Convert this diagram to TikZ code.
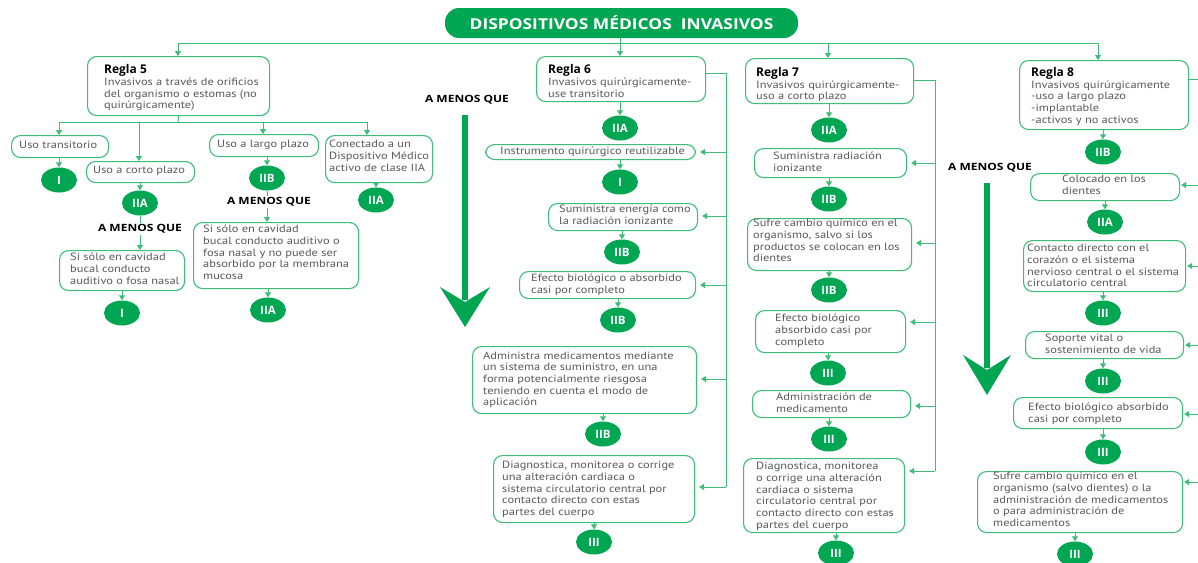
\documentclass[tikz,border=0pt]{standalone}
\usepackage{fontspec}
\setmainfont{PT Sans}[FakeStretch=1.18]
\newfontfamily\hvy{Open Sans}
\newfontfamily\hvyw{Open Sans}[FakeStretch=1.2]
\newfontfamily\hvyt{Open Sans}[FakeStretch=1.16]
\usetikzlibrary{shapes.geometric,arrows.meta}
\definecolor{gdark}{HTML}{00A651}
\definecolor{gline}{HTML}{3DBE76}
\definecolor{gtxt}{HTML}{58595B}
\newcommand\bodyf{\fontsize{10.5}{11.7}\selectfont}
\newcommand\rgf{\hvy\fontsize{12}{11.7}\selectfont\bfseries\color{black}}
\newcommand\clsf{\hvy\fontsize{11.5}{12}\selectfont\bfseries}
\newcommand\lblf{\hvyw\fontsize{10}{12}\selectfont\bfseries}
\newcommand\titf{\hvyt\fontsize{15}{16}\selectfont\bfseries}
\tikzset{
  box/.style={draw=gline, line width=1.1pt, rounded corners=9pt, fill=white, inner sep=0pt},
  txt/.style={text=gtxt, font=\bodyf, align=left, inner sep=0pt},
  cls/.style={ellipse, fill=gdark, minimum width=36pt, minimum height=25pt, inner sep=0pt, text=white, font=\clsf},
  ln/.style={draw=gline, line width=1pt},
  arr/.style={draw=gline, line width=1pt, -{Triangle[length=5pt,width=6pt]}},
  sarr/.style={arr, shorten >=4pt},
  lbl/.style={font=\lblf, text=black, fill=white, inner sep=1.5pt},
}
\newcommand\bx[8]{%
  \node[box, anchor=north west, minimum width={#4pt-#2pt}, minimum height={#5pt-#3pt}] (#1) at (#2,#3) {};
  \node[txt, anchor=north west] (#1t) at (#6,#7) {#8};}
\begin{document}
\begin{tikzpicture}[x=1pt,y=-1pt]
\useasboundingbox (0,0) rectangle (1198,562);
\clip (0,0) rectangle (1198,562);
\fill[white] (0,0) rectangle (1198,562);

% title
\node[fill=gdark, rounded corners=14pt, minimum width=353pt, minimum height=30pt, text=white, font=\titf, inner sep=0pt] (title) at (621.5,23) {DISPOSITIVOS MÉDICOS\ \ INVASIVOS};

% boxes
\bx{r5}{87}{56}{269}{115}{104}{64.5}{{\rgf Regla 5}\\Invasivos a través de orificios\\del organismo o estomas (no\\quirúrgicamente)}
\bx{ut}{11}{135}{108}{157}{19}{141}{Uso transitorio}
\bx{uc}{86}{161}{194}{182}{93}{166}{Uso a corto plazo}
\bx{ul}{209}{134}{318}{156}{217}{140}{Uso a largo plazo}
\bx{cn}{325}{135}{432}{182}{329}{140}{Conectado a un\\Dispositivo Médico\\activo de clase IIA}
\bx{s1}{59}{250}{184}{290}{70}{253}{Si sólo en cavidad\\bucal conducto\\auditivo o fosa nasal}
\bx{s2}{193}{222}{358}{288}{203}{225}{Si sólo en cavidad\\bucal conducto auditivo o\\fosa nasal y no puede ser\\absorbido por la membrana\\mucosa}

\bx{r6}{536}{56}{705}{101}{548}{64.5}{{\rgf Regla 6}\\Invasivos quirúrgicamente-\\use transitorio}
\bx{i6}{485}{144}{695}{159}{500}{147}{Instrumento quirúrgico reutilizable}
\bx{e6}{548}{203}{697}{230}{559}{205}{Suministra energía como\\la radiación ionizante}
\bx{b6}{519}{271}{695}{298}{531}{274}{Efecto biológico o absorbido\\casi por completo}
\bx{a6}{472}{346}{696}{413}{483}{351.5}{Administra medicamentos mediante\\un sistema de suministro, en una\\forma potencialmente riesgosa\\teniendo en cuenta el modo de\\aplicación}
\bx{d6}{493}{455}{694}{522}{502}{461}{Diagnostica, monitorea o corrige\\una alteración cardiaca o\\sistema circulatorio central por\\contacto directo con estas\\partes del cuerpo}

\bx{r7}{745}{58}{913}{103}{756}{67}{{\rgf Regla 7}\\Invasivos quirúrgicamente-\\uso a corto plazo}
\bx{s7}{754}{148}{906}{177}{773}{152}{Suministra radiación\\ionizante}
\bx{q7}{747}{218}{911}{270}{753}{219}{Sufre cambio químico en el\\organismo, salvo si los\\productos se colocan en los\\dientes}
\bx{b7}{755}{310}{905}{352}{775}{314}{Efecto biológico\\absorbido casi por\\completo}
\bx{m7}{752}{390}{910}{417}{776}{393}{Administración de\\medicamento}
\bx{d7}{743}{458}{904}{532}{756}{462}{Diagnostica, monitorea\\o corrige una alteración\\cardiaca o sistema\\circulatorio central por\\contacto directo con estas\\partes del cuerpo}

\bx{r8}{1019}{60}{1188}{129}{1031}{67}{{\rgf Regla 8}\\Invasivos quirúrgicamente\\-uso a largo plazo\\-implantable\\-activos y no activos}
\bx{c8}{1030}{173}{1179}{200}{1062}{175}{Colocado en los\\dientes}
\bx{k8}{1023}{240}{1185}{291}{1027}{244}{Contacto directo con el\\corazón o el sistema\\nervioso central o el sistema\\circulatorio central}
\bx{v8}{1025}{331}{1183}{358}{1045}{334}{Soporte vital o\\sostenimiento de vida}
\bx{f8}{1013}{397}{1182}{428}{1028}{403}{Efecto biológico absorbido\\casi por completo}
\bx{q8}{977}{471}{1182}{532}{993}{472}{Sufre cambio químico en el\\organismo (salvo dientes) o la\\administración de medicamentos\\o para administración de\\medicamentos}

% class ellipses
\node[cls] (c5a) at (59,180) {I};
\node[cls] (c5b) at (140,203) {IIA};
\node[cls] (c5c) at (267,178) {IIB};
\node[cls] (c5d) at (376,200) {IIA};
\node[cls] (c5e) at (122,313) {I};
\node[cls] (c5f) at (268,310) {IIA};
\node[cls] (c6a) at (620,128) {IIA};
\node[cls] (c6b) at (620,182) {I};
\node[cls] (c6c) at (622,252) {IIB};
\node[cls] (c6d) at (618,320) {IIB};
\node[cls] (c6e) at (603,434) {IIB};
\node[cls] (c6f) at (594,542) {III};
\node[cls] (c7a) at (829,130) {IIA};
\node[cls] (c7b) at (829,199) {IIB};
\node[cls] (c7c) at (829,290) {IIB};
\node[cls] (c7d) at (828,373) {III};
\node[cls] (c7e) at (829,439) {III};
\node[cls] (c7f) at (836,553) {III};
\node[cls] (c8a) at (1103,152) {IIB};
\node[cls] (c8b) at (1105,222) {IIA};
\node[cls] (c8c) at (1103,313) {III};
\node[cls] (c8d) at (1103,381) {III};
\node[cls] (c8e) at (1103,452) {III};
\node[cls] (c8f) at (1075,554) {III};

% top bus
\coordinate (bus5) at (178,43);
\coordinate (bus6) at (620,43);
\coordinate (bus7) at (828,43);
\coordinate (bus8) at (1098,43);
\draw[ln] (bus5) -- (bus8);
\draw[ln] (title.south -| bus6) -- (bus6);
\draw[arr] (bus5) -- (bus5 |- r5.north);
\draw[arr] (bus6) -- (bus6 |- r6.north);
\draw[arr] (bus7) -- (bus7 |- r7.north);
\draw[arr] (bus8) -- (bus8 |- r8.north);

% regla 5 branches
\coordinate (j5) at (178,122);
\coordinate (u1) at (59,122);
\coordinate (u2) at (139,122);
\coordinate (u3) at (263,122);
\coordinate (u4) at (367,122);
\draw[ln] (r5.south) -- (j5);
\draw[ln] (u1) -- (u4);
\draw[arr] (u1) -- (u1 |- ut.north);
\draw[arr] (u2) -- (u2 |- uc.north);
\draw[arr] (u3) -- (u3 |- ul.north);
\draw[arr] (u4) -- (u4 |- cn.north);
\draw[arr] (ut.south -| c5a) -- (c5a.north);
\draw[arr] (uc.south -| c5b) -- (c5b.north);
\draw[arr] (ul.south -| c5c) -- (c5c.north);
\draw[arr] (cn.south -| c5d) -- (c5d.north);
\draw[arr] (c5b.south) -- (c5b.south |- s1.north);
\draw[arr] (c5c.south) -- (c5c.south |- s2.north);
\node[lbl] (m1) at (140,229) {A MENOS QUE};
\node[lbl] (m2) at (269,202) {A MENOS QUE};
\draw[arr] (s1.south -| c5e) -- (c5e.north);
\draw[arr] (s2.south -| c5f) -- (c5f.north);

% regla 6
\draw[arr] (r6.south -| c6a) -- (c6a.north);
\draw[arr] (i6.south -| c6b) -- (c6b.north);
\draw[arr] (e6.south -| c6c) -- (c6c.north);
\draw[arr] (b6.south -| c6d) -- (c6d.north);
\draw[arr] (a6.south -| c6e) -- (c6e.north);
\draw[arr] (d6.south -| c6f) -- (c6f.north);
\coordinate (k6) at (726,73);
\coordinate (p61) at (726,152);
\coordinate (p62) at (726,216);
\coordinate (p63) at (726,285);
\coordinate (p64) at (726,379);
\coordinate (p65) at (726,487);
\draw[ln] (r6.east |- k6) -- (k6) -- (p65);
\draw[sarr] (p61) -- (p61 -| i6.east);
\draw[sarr] (p62) -- (p62 -| e6.east);
\draw[sarr] (p63) -- (p63 -| b6.east);
\draw[sarr] (p64) -- (p64 -| a6.east);
\draw[sarr] (p65) -- (p65 -| d6.east);

% regla 7
\draw[arr] (r7.south -| c7a) -- (c7a.north);
\draw[arr] (s7.south -| c7b) -- (c7b.north);
\draw[arr] (q7.south -| c7c) -- (c7c.north);
\draw[arr] (b7.south -| c7d) -- (c7d.north);
\draw[arr] (m7.south -| c7e) -- (c7e.north);
\draw[arr] (d7.south -| c7f) -- (c7f.north);
\coordinate (k7) at (935,80);
\coordinate (p71) at (935,163);
\coordinate (p72) at (935,243);
\coordinate (p73) at (935,322);
\coordinate (p74) at (935,406);
\coordinate (p75) at (935,471);
\draw[ln] (r7.east |- k7) -- (k7) -- (p75);
\draw[sarr] (p71) -- (p71 -| s7.east);
\draw[sarr] (p72) -- (p72 -| q7.east);
\draw[sarr] (p73) -- (p73 -| b7.east);
\draw[sarr] (p74) -- (p74 -| m7.east);
\draw[sarr] (p75) -- (p75 -| d7.east);

% regla 8
\draw[arr] (r8.south -| c8a) -- (c8a.north);
\draw[arr] (c8.south -| c8b) -- (c8b.north);
\draw[arr] (k8.south -| c8c) -- (c8c.north);
\draw[arr] (v8.south -| c8d) -- (c8d.north);
\draw[arr] (f8.south -| c8e) -- (c8e.north);
\draw[arr] (q8.south -| c8f) -- (c8f.north);
\coordinate (k9) at (1202,79);
\coordinate (p81) at (1202,185);
\coordinate (p82) at (1202,266);
\coordinate (p83) at (1202,345);
\coordinate (p84) at (1202,414);
\coordinate (p85) at (1202,482);
\draw[ln] (r8.east |- k9) -- (k9) -- (p85);
\draw[arr, shorten >=1pt] (p81) -- (p81 -| c8.east);
\draw[arr, shorten >=1pt] (p82) -- (p82 -| k8.east);
\draw[arr, shorten >=1pt] (p83) -- (p83 -| v8.east);
\draw[arr, shorten >=1pt] (p84) -- (p84 -| f8.east);
\draw[arr, shorten >=1pt] (p85) -- (p85 -| q8.east);

% big "A MENOS QUE" arrows
\node[lbl] (am1) at (467,100) {A MENOS QUE};
\node[lbl] (am2) at (990,168) {A MENOS QUE};
\coordinate (t1) at (465,115);
\coordinate (h1) at (465,300);
\draw[gdark, line width=6pt] (t1) -- (h1);
\fill[gdark] (440,287) -- (465,327) -- (490,287) -- (465,302) -- cycle;
\coordinate (t2) at (987,183);
\coordinate (h2) at (987,368);
\draw[gdark, line width=6pt] (t2) -- (h2);
\fill[gdark] (963,355) -- (987,395) -- (1011,355) -- (987,370) -- cycle;
\end{tikzpicture}
\end{document}
